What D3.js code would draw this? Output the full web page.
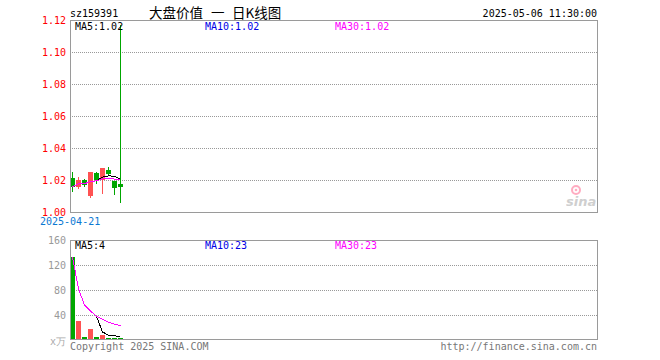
<!doctype html>
<html>
<head>
<meta charset="utf-8">
<title>sz159391 日K线图</title>
<script src="https://d3js.org/d3.v7.min.js"></script>
<style type="text/css">
	body { margin: 0; background: #fff; }
	.mono { font-family: "DejaVu Sans Mono", monospace; font-size: 10px; }
	.title { font-family: "Noto Sans CJK SC", sans-serif; font-size: 13.5px; }
	.grid { stroke: #999; stroke-dasharray: 1,1; shape-rendering: crispEdges; }
	.frame { fill: none; stroke: #9a9a9a; shape-rendering: crispEdges; }
	.ma { fill: none; stroke-width: 1; shape-rendering: crispEdges; }
</style>
</head>
<body>
<script>
	// data
	var dates = ["2025-04-21","2025-04-22","2025-04-23","2025-04-24","2025-04-25",
	             "2025-04-28","2025-04-29","2025-04-30","2025-05-06"];
	var opens  = [1.0213, 1.0154, 1.0200, 1.0094, 1.0246, 1.0200, 1.0263, 1.0194, 1.0175];
	var highs  = [1.0250, 1.0219, 1.0206, 1.0250, 1.0252, 1.0275, 1.0284, 1.0194, 1.1170];
	var lows   = [1.0125, 1.0145, 1.0158, 1.0090, 1.0175, 1.0110, 1.0222, 1.0106, 1.0058];
	var closes = [1.0156, 1.0200, 1.0169, 1.0247, 1.0200, 1.0275, 1.0240, 1.0153, 1.0154];
	var ma5Price  = [null, null, null, null, 1.0194, 1.0218, 1.0226, 1.0223, 1.0204];
	var ma10Price = [1.0156, 1.0178, 1.0175, 1.0193, 1.0194, 1.0208, 1.0212, 1.0206, 1.0199];
	var ma30Price = [1.0156, 1.0178, 1.0175, 1.0193, 1.0194, 1.0208, 1.0212, 1.0206, 1.0199];

	var volumes = [133, 30, 5.5, 17, 4.5, 7.5, 3, 3, 4];
	var ma5Vol  = [null, null, null, null, 38, 12.9, 7.5, 7, 4.4];
	var ma10Vol = [133, 81.5, 56.2, 46.4, 38, 32.9, 28.6, 25.4, 23.1];
	var ma30Vol = [133, 81.5, 56.2, 46.4, 38, 32.9, 28.6, 25.4, 23.1];

	var priceTicks = [1.00, 1.02, 1.04, 1.06, 1.08, 1.10, 1.12];
	var volTicks = [40, 80, 120, 160];
	var slots = 88;

	var w = 660, h = 360;
	var left = 70, right = 598;

	var svg = d3.select("body").append("svg")
		.attr("width", w).attr("height", h);

	var xScale = d3.scaleBand().domain(d3.range(slots))
		.range([left, right]).paddingInner(1/6).paddingOuter(0);
	var bw = 5;
	var xc = function(i) { return Math.round(xScale(i)) + bw / 2; };

	var yPrice = d3.scaleLinear().domain([1.00, 1.12]).range([212, 20]);
	var yVol = d3.scaleLinear().domain([0, 160]).range([340, 240]);

	var red = "#ff5252", green = "#00a600";
	var isUp = function(i) { return closes[i] >= opens[i]; };

	// ---- price panel ----
	svg.append("g").selectAll("line")
		.data(priceTicks.slice(1, -1))
		.enter().append("line")
		.attr("class", "grid")
		.attr("x1", left).attr("x2", right)
		.attr("y1", function(d) { return Math.round(yPrice(d)) + 0.5; })
		.attr("y2", function(d) { return Math.round(yPrice(d)) + 0.5; });

	svg.append("g").selectAll("text")
		.data(priceTicks)
		.enter().append("text")
		.attr("class", "mono")
		.attr("x", 66)
		.attr("y", function(d) { return yPrice(d) + 3.5; })
		.attr("text-anchor", "end")
		.attr("fill", "#f00")
		.text(function(d) { return d.toFixed(2); });

	// watermark
	var wm = svg.append("g").attr("opacity", 0.4);
	wm.append("circle").attr("cx", 576).attr("cy", 190).attr("r", 4)
		.attr("fill", "none").attr("stroke", "#f36").attr("stroke-width", 2);
	wm.append("circle").attr("cx", 576).attr("cy", 190).attr("r", 1.3).attr("fill", "#f36");
	wm.append("text").attr("x", 566).attr("y", 206)
		.style("font-family", "DejaVu Sans, sans-serif")
		.style("font-size", "13px").style("font-style", "italic").style("font-weight", "bold")
		.attr("fill", "#888").text("sina");

	var candles = svg.append("g");
	candles.selectAll("line")
		.data(d3.range(dates.length))
		.enter().append("line")
		.attr("x1", xc).attr("x2", xc)
		.attr("y1", function(i) { return yPrice(highs[i]); })
		.attr("y2", function(i) { return yPrice(lows[i]); })
		.attr("stroke", function(i) { return isUp(i) ? red : green; })
		.attr("shape-rendering", "crispEdges");
	candles.selectAll("rect")
		.data(d3.range(dates.length))
		.enter().append("rect")
		.attr("x", function(i) { return Math.round(xScale(i)); })
		.attr("width", bw)
		.attr("y", function(i) { return Math.round(yPrice(Math.max(opens[i], closes[i]))); })
		.attr("height", function(i) {
			return Math.max(1, Math.round(Math.abs(yPrice(opens[i]) - yPrice(closes[i]))));
		})
		.attr("fill", function(i) { return isUp(i) ? red : green; })
		.attr("shape-rendering", "crispEdges");

	function maLine(yScale) {
		return d3.line()
			.defined(function(d) { return d !== null; })
			.x(function(d, i) { return xc(i); })
			.y(function(d) { return yScale(d); });
	}
	var maColors = ["#000", "#0000e6", "#f0f"];
	[ma5Price, ma10Price, ma30Price].forEach(function(arr, k) {
		svg.append("path").attr("class", "ma").attr("d", maLine(yPrice)(arr))
			.attr("stroke", maColors[k]);
	});

	svg.append("rect").attr("class", "frame")
		.attr("x", left + 0.5).attr("y", 20.5)
		.attr("width", right - left - 1).attr("height", 192);

	var maX = [75, 205, 335];
	var priceLabels = ["MA5:1.02", "MA10:1.02", "MA30:1.02"];
	svg.append("g").selectAll("text")
		.data(priceLabels).enter().append("text")
		.attr("class", "mono")
		.attr("x", function(d, i) { return maX[i]; })
		.attr("y", 29.5)
		.attr("fill", function(d, i) { return maColors[i]; })
		.text(function(d) { return d; });

	svg.append("text").attr("class", "mono")
		.attr("x", 40).attr("y", 225).attr("fill", "#0a78d2")
		.text(dates[0]);

	// ---- header ----
	svg.append("text").attr("class", "mono").attr("x", 70).attr("y", 16.5)
		.attr("fill", "#000").text("sz159391");
	var titleParts = ["大盘价值", "一", "日K线图"];
	var titleX = [149, 211, 232];
	svg.append("g").selectAll("text")
		.data(titleParts).enter().append("text")
		.attr("class", "title")
		.attr("x", function(d, i) { return titleX[i]; })
		.attr("y", 17.5)
		.attr("fill", "#000")
		.text(function(d) { return d; });
	svg.append("text").attr("class", "mono").attr("x", 597).attr("y", 16.5)
		.attr("text-anchor", "end").attr("fill", "#000").text("2025-05-06 11:30:00");

	// ---- volume panel ----
	svg.append("g").selectAll("line")
		.data(volTicks.slice(0, -1))
		.enter().append("line")
		.attr("class", "grid")
		.attr("x1", left).attr("x2", right)
		.attr("y1", function(d) { return Math.round(yVol(d)) + 0.5; })
		.attr("y2", function(d) { return Math.round(yVol(d)) + 0.5; });

	svg.append("g").selectAll("text")
		.data(volTicks)
		.enter().append("text")
		.attr("class", "mono")
		.attr("x", 66)
		.attr("y", function(d) { return yVol(d) + 3.5; })
		.attr("text-anchor", "end")
		.attr("fill", "#999")
		.text(function(d) { return d; });
	svg.append("text").attr("class", "mono")
		.attr("x", 66).attr("y", 345).attr("text-anchor", "end")
		.attr("fill", "#aaa").text("x万");

	svg.append("g").selectAll("rect")
		.data(d3.range(volumes.length))
		.enter().append("rect")
		.attr("x", function(i) { return Math.round(xScale(i)); })
		.attr("width", bw)
		.attr("y", function(i) { return Math.round(yVol(volumes[i])); })
		.attr("height", function(i) { return yVol(0) - Math.round(yVol(volumes[i])); })
		.attr("fill", function(i) { return isUp(i) ? red : green; })
		.attr("shape-rendering", "crispEdges");

	[ma5Vol, ma10Vol, ma30Vol].forEach(function(arr, k) {
		svg.append("path").attr("class", "ma").attr("d", maLine(yVol)(arr))
			.attr("stroke", maColors[k]);
	});

	svg.append("rect").attr("class", "frame")
		.attr("x", left + 0.5).attr("y", 240.5)
		.attr("width", right - left - 1).attr("height", 99);

	var volLabels = ["MA5:4", "MA10:23", "MA30:23"];
	svg.append("g").selectAll("text")
		.data(volLabels).enter().append("text")
		.attr("class", "mono")
		.attr("x", function(d, i) { return maX[i]; })
		.attr("y", 249)
		.attr("fill", function(d, i) { return maColors[i]; })
		.text(function(d) { return d; });

	// ---- footer ----
	svg.append("text").attr("class", "mono").attr("x", 70).attr("y", 349.5)
		.attr("fill", "#777").text("Copyright 2025 SINA.COM");
	svg.append("text").attr("class", "mono").attr("x", 597).attr("y", 349.5)
		.attr("text-anchor", "end").attr("fill", "#777").text("http://finance.sina.com.cn");
</script>
</body>
</html>
